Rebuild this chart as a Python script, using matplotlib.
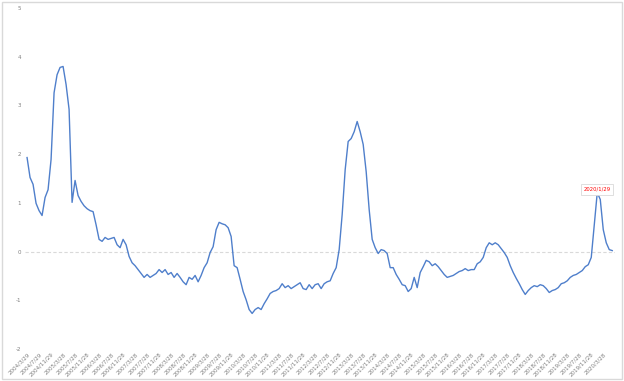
#!/usr/bin/env python3
import matplotlib
matplotlib.use("Agg")
import matplotlib.pyplot as plt
import pandas as pd
from matplotlib.patches import Rectangle

values = [
    1.93, 1.52, 1.38, 0.99, 0.84, 0.74, 1.11, 1.27, 1.89, 3.26,
    3.63, 3.78, 3.80, 3.43, 2.92, 1.01, 1.46, 1.15, 1.03, 0.94,
    0.88, 0.84, 0.82, 0.55, 0.25, 0.21, 0.29, 0.25, 0.27, 0.29,
    0.14, 0.08, 0.25, 0.14, -0.10, -0.23, -0.29, -0.37, -0.45, -0.53,
    -0.47, -0.53, -0.49, -0.45, -0.37, -0.43, -0.37, -0.47, -0.43, -0.53,
    -0.45, -0.53, -0.62, -0.68, -0.53, -0.57, -0.49, -0.62, -0.49, -0.33,
    -0.23, -0.02, 0.10, 0.45, 0.60, 0.57, 0.55, 0.49, 0.31, -0.29,
    -0.33, -0.57, -0.82, -0.99, -1.19, -1.27, -1.19, -1.15, -1.19, -1.07,
    -0.97, -0.86, -0.82, -0.80, -0.76, -0.66, -0.74, -0.70, -0.76, -0.72,
    -0.68, -0.64, -0.76, -0.78, -0.68, -0.76, -0.68, -0.66, -0.76, -0.66,
    -0.62, -0.60, -0.45, -0.33, 0.04, 0.76, 1.68, 2.26, 2.32, 2.46,
    2.67, 2.46, 2.20, 1.64, 0.86, 0.25, 0.08, -0.04, 0.04, 0.02,
    -0.04, -0.33, -0.33, -0.47, -0.57, -0.68, -0.70, -0.82, -0.76, -0.53,
    -0.74, -0.43, -0.31, -0.18, -0.21, -0.29, -0.25, -0.31, -0.39, -0.47,
    -0.53, -0.51, -0.49, -0.45, -0.41, -0.39, -0.35, -0.39, -0.37, -0.37,
    -0.25, -0.21, -0.12, 0.08, 0.18, 0.14, 0.18, 0.14, 0.06, -0.02,
    -0.12, -0.29, -0.43, -0.55, -0.66, -0.78, -0.88, -0.80, -0.74, -0.70,
    -0.72, -0.68, -0.70, -0.76, -0.84, -0.80, -0.78, -0.74, -0.66, -0.64,
    -0.60, -0.53, -0.49, -0.47, -0.43, -0.39, -0.31, -0.27, -0.12, 0.55,
    1.21, 1.07, 0.45, 0.18, 0.04, 0.02,
]
start_date = "2004-03-29"
peak_label = "2020/1/29"
y_ticks = [-2, -1, 0, 1, 2, 3, 4, 5]

dates = pd.date_range(start_date, periods=len(values), freq=pd.DateOffset(months=1))
date_labels = [f"{d.year}/{d.month}/{d.day}" for d in dates]
x = list(range(len(values)))

fig = plt.figure(figsize=(6.24, 3.81), dpi=100)
ax = fig.add_axes([0.040, 0.084, 0.946, 0.895])

ax.axhline(0, color="#d9d9d9", linewidth=0.8, linestyle=(0, (3, 2)), zorder=1)
ax.plot(x, values, color="#4f7fcb", linewidth=1.0, zorder=2)

ax.set_xlim(-0.7, len(values))
ax.set_ylim(-2, 5)
ax.set_yticks(y_ticks)
ax.set_yticklabels([str(t) for t in y_ticks])

step = 4
ax.set_xticks(x[::step])
ax.set_xticklabels(date_labels[::step], rotation=45, ha="right",
                   rotation_mode="anchor")
ax.tick_params(axis="both", length=0, labelsize=4, colors="#7f7f7f")
ax.tick_params(axis="y", pad=3)
ax.tick_params(axis="x", pad=2)
for s in ax.spines.values():
    s.set_visible(False)

# label the recent peak
peak_i = max(range(len(values) - 20, len(values)), key=lambda i: values[i])
ax.annotate(peak_label, xy=(peak_i, values[peak_i]), xytext=(0, 0.5),
            textcoords="offset points", ha="center", va="bottom",
            fontsize=3.8, color="#ff0000",
            bbox=dict(boxstyle="square,pad=0.5", fc="white", ec="#d9d9d9", lw=0.6))

fig.patches.append(Rectangle((0.004, 0.004), 0.992, 0.992, transform=fig.transFigure,
                             fill=False, edgecolor="#d9d9d9", linewidth=1))

fig.savefig("out.png", dpi=100)
